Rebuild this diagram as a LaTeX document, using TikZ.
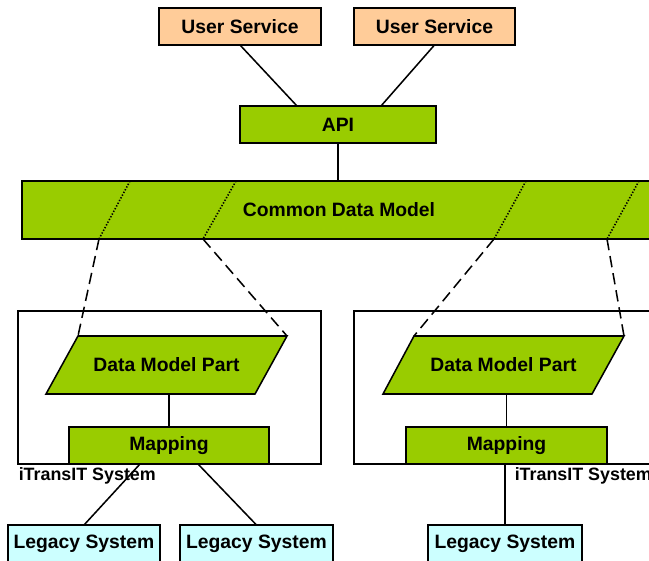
\documentclass[tikz,border=0pt]{standalone}
\usepackage{fontspec}
\setmainfont{Liberation Sans}
\usepackage{tikz}
\definecolor{partgreen}{RGB}{153,204,0}
\definecolor{userorange}{RGB}{255,204,153}
\definecolor{legacycyan}{RGB}{204,255,255}
\tikzset{every picture/.style={line width=1.15pt}}
\tikzset{
  boxtext/.style={font=\bfseries\fontsize{14.5}{16}\selectfont},
  greenbox/.style={boxtext, draw, fill=partgreen, inner sep=0pt, outer sep=0pt},
  userbox/.style={boxtext, draw, fill=userorange, inner sep=0pt, outer sep=0pt, minimum height=27.75pt},
  legacybox/.style={boxtext, draw, fill=legacycyan, inner sep=0pt, outer sep=0pt, minimum height=28.5pt},
  partshape/.style={draw, fill=partgreen},
  sysbox/.style={draw, inner sep=0pt, outer sep=0pt, minimum width=227.25pt, minimum height=114.75pt},
  syslabel/.style={anchor=west, inner sep=0pt, font=\bfseries\fontsize{13.4}{15}\selectfont},
  modelline/.style={line width=1.2pt, dash pattern=on 1pt off 1.3pt},
  partline/.style={dash pattern=on 8.5pt off 4.5pt}
}

\begin{document}
\begin{tikzpicture}[x=0.75pt,y=0.75pt,yscale=-1,xscale=1]
		\useasboundingbox (0,0) rectangle (649,560);
		\clip (0,0) rectangle (649,560);
		
		%Shape: Rectangle [iTransIT systems]
		\node [sysbox] (sys1) at (169.5,387.5) {};
		\node [sysbox] (sys2) at (505.5,387.5) {};
		
		% Text Node
		\node [syslabel] (lab1) at (18,476) {iTransIT System};
		% Text Node
		\node [syslabel] (lab2) at (514,476) {iTransIT System};
		
		%Shape: Rectangle [user services]
		\node [userbox, minimum width=121.5pt] (us1) at (240,26.5) {User Service};
		\node [userbox, minimum width=120.75pt] (us2) at (434.5,26.5) {User Service};
		
		%Shape: Rectangle [api]
		\node [greenbox, minimum width=147pt, minimum height=27.75pt] (api) at (338,124.5) {API};
		
		%Shape: Rectangle [common data model]
		\node [greenbox, minimum width=475.5pt, minimum height=43.5pt] (cdm) at (339,210) {Common Data Model};
		
		%Shape: Parallelogram [data model parts]
		\coordinate (dmp1tl) at (78,336);
		\coordinate (dmp1tr) at (287,336);
		\coordinate (dmp1br) at (255,394);
		\coordinate (dmp1bl) at (46,394);
		\draw [partshape] (dmp1tl) -- (dmp1tr) -- (dmp1br) -- (dmp1bl) -- cycle ;
		\coordinate (dmp2tl) at (414,336);
		\coordinate (dmp2tr) at (624,336);
		\coordinate (dmp2br) at (592,394);
		\coordinate (dmp2bl) at (383,394);
		\draw [partshape] (dmp2tl) -- (dmp2tr) -- (dmp2br) -- (dmp2bl) -- cycle ;
		% Text Node
		\node [boxtext] (dmp1) at (166.5,365) {Data Model Part};
		% Text Node
		\node [boxtext] (dmp2) at (503.5,365) {Data Model Part};
		
		%Shape: Rectangle [mappings]
		\node [greenbox, minimum width=150pt, minimum height=27.75pt] (map1) at (169,445.5) {Mapping};
		\node [greenbox, minimum width=150.75pt, minimum height=27.75pt] (map2) at (506.5,445.5) {Mapping};
		
		%Shape: Rectangle [legacy systems]
		\node [legacybox, minimum width=114pt] (leg1) at (84,544) {Legacy System};
		\node [legacybox, minimum width=114.75pt] (leg2) at (256.5,544) {Legacy System};
		\node [legacybox, minimum width=115.5pt] (leg3) at (505,544) {Legacy System};
		
		%Coordinates [cuts of the common data model]
		\coordinate (cut1t) at (130,181);
		\coordinate (cut1b) at (99,239);
		\coordinate (cut2t) at (236,181);
		\coordinate (cut2b) at (203,239);
		\coordinate (cut3t) at (526,181);
		\coordinate (cut3b) at (494,239);
		\coordinate (cut4t) at (639,181);
		\coordinate (cut4b) at (607,239);
		
		%Dotted Lines
		\draw [modelline] (cut1t) -- (cut1b) ;
		\draw [modelline] (cut2t) -- (cut2b) ;
		\draw [modelline] (cut3t) -- (cut3b) ;
		\draw [modelline] (cut4t) -- (cut4b) ;
		
		%Dashed Lines
		\draw [partline] (cut1b) -- (dmp1tl) ;
		\draw [partline] (cut2b) -- (dmp1tr) ;
		\draw [partline] (cut3b) -- (dmp2tl) ;
		\draw [partline] (cut4b) -- (dmp2tr) ;
		
		%Straight Lines
		\draw    (us1.south) -- ([xshift=-30.75pt]api.north) ;
		\draw    (us2.south) -- ([xshift=32.25pt]api.north) ;
		\draw    (api.south) -- (api.south |- cdm.north) ;
		
		%Straight Lines
		\draw    (map1.north) -- (map1.north |- dmp1bl) ;
		\draw    (map2.north) -- (map2.north |- dmp2bl) ;
		
		%Straight Lines
		\draw    ([xshift=-21.75pt]map1.south) -- (leg1.north) ;
		\draw    ([xshift=21.75pt]map1.south) -- (leg2.north) ;
		\draw    (leg3.north) -- (leg3.north |- map2.south) ;
		
\end{tikzpicture}
\end{document}
